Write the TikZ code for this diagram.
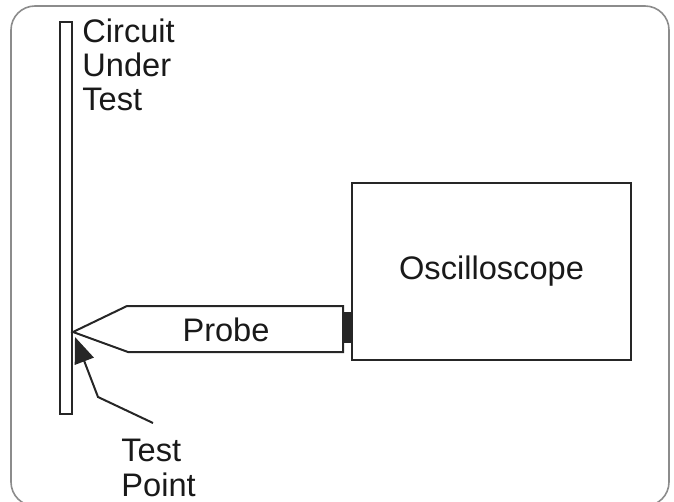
\documentclass[tikz,border=0pt]{standalone}
\usepackage{fontspec}
\setmainfont{Liberation Sans}
\usetikzlibrary{positioning,arrows.meta,calc}

\begin{document}
\begin{tikzpicture}[
    x=0.5pt, y=-0.5pt,
    every node/.style={font=\fontsize{16.3}{17.2}\selectfont, text=black!90},
    part/.style={draw=black!85, line width=1pt, rectangle, inner sep=0pt},
    label/.style={align=left, inner sep=0pt, anchor=north west},
    pointer/.style={-{Triangle[length=13pt, width=10pt]}, draw=black!85, line width=1pt}
]

% Rahmen
\useasboundingbox (0,0) rectangle (674,502);
\draw[draw=black!45, line width=0.8pt, rounded corners=12pt] (11,6) rectangle (669,506);

% Schaltung unter Test
\node[part, minimum width=6pt, minimum height=196pt] (board) at (66,218) {};
\node[label] (cut) at (82,18) {Circuit\\Under\\Test};

% Oszilloskop und Anschluss
\node[part, minimum width=139.5pt, minimum height=88.5pt] (scope) at (491.5,271.5) {};
\node at (scope.center) {Oscilloscope};
\node[part, fill=black!85, minimum width=3pt, minimum height=14.5pt, anchor=east] (plug) at (scope.west |- 0,327.5) {};

% Tastkopf
\coordinate (probetip) at (73,332);
\draw[draw=black!85, line width=1pt] (probetip) -- (127,306) -- (plug.west |- 0,306)
    -- (plug.west |- 0,352) -- (128,352) -- cycle;
\node (probe) at (226,330) {Probe};

% Messpunkt
\node[label] (tp) at (121,439) {Test\\Point};
\coordinate (tpstart) at (153,423);
\coordinate (tpbend) at (98,397);
\coordinate (tptarget) at (75,337);
\draw[pointer] (tpstart) -- (tpbend) -- (tptarget);

\end{tikzpicture}
\end{document}
